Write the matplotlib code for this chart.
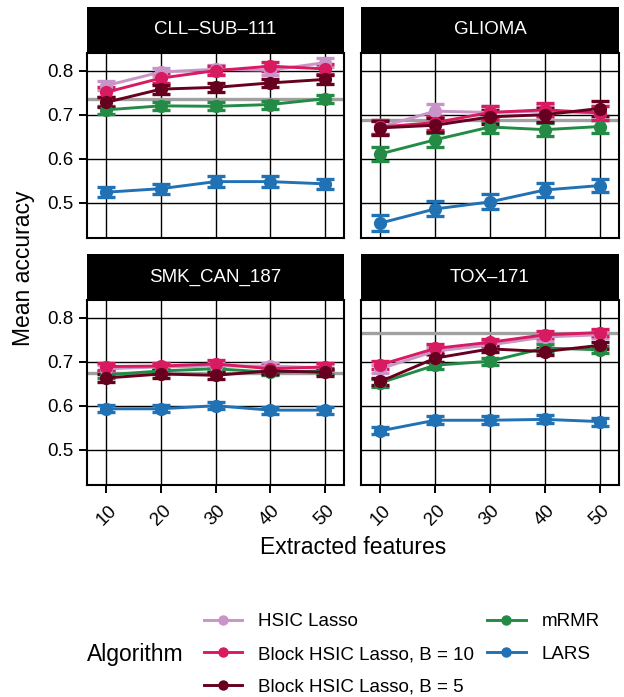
import numpy as np
import matplotlib
matplotlib.use("Agg")
import matplotlib.pyplot as plt
from matplotlib.lines import Line2D

plt.rcParams['font.family'] = ['Liberation Sans', 'DejaVu Sans']

# features extracted
features = [10, 20, 30, 40, 50]

algorithms = ["HSIC Lasso", "Block HSIC Lasso, B = 10", "Block HSIC Lasso, B = 5", "mRMR", "LARS"]
colors = {
    "HSIC Lasso": "#c994c7",
    "Block HSIC Lasso, B = 10": "#d81b60",
    "Block HSIC Lasso, B = 5": "#67001f",
    "mRMR": "#238b45",
    "LARS": "#2171b5",
}
# drawing order (last one on top)
draw_order = ["LARS", "mRMR", "HSIC Lasso", "Block HSIC Lasso, B = 10", "Block HSIC Lasso, B = 5"]

datasets = ["CLL–SUB–111", "GLIOMA", "SMK_CAN_187", "TOX–171"]

# accuracy using all features (grey line)
baseline = [0.735, 0.689, 0.674, 0.766]

# mean accuracy per dataset / algorithm
cll_mean = {
    "HSIC Lasso": [0.766, 0.797, 0.803, 0.801, 0.818],
    "Block HSIC Lasso, B = 10": [0.751, 0.783, 0.800, 0.810, 0.804],
    "Block HSIC Lasso, B = 5": [0.728, 0.758, 0.762, 0.772, 0.780],
    "mRMR": [0.711, 0.720, 0.719, 0.723, 0.736],
    "LARS": [0.524, 0.532, 0.548, 0.548, 0.543],
}
glioma_mean = {
    "HSIC Lasso": [0.672, 0.708, 0.705, 0.708, 0.703],
    "Block HSIC Lasso, B = 10": [0.672, 0.682, 0.705, 0.711, 0.704],
    "Block HSIC Lasso, B = 5": [0.670, 0.676, 0.695, 0.700, 0.714],
    "mRMR": [0.611, 0.643, 0.672, 0.666, 0.673],
    "LARS": [0.454, 0.486, 0.502, 0.529, 0.539],
}
smk_mean = {
    "HSIC Lasso": [0.684, 0.688, 0.690, 0.690, 0.686],
    "Block HSIC Lasso, B = 10": [0.689, 0.690, 0.695, 0.684, 0.688],
    "Block HSIC Lasso, B = 5": [0.663, 0.672, 0.669, 0.679, 0.676],
    "mRMR": [0.670, 0.679, 0.684, 0.676, 0.679],
    "LARS": [0.593, 0.593, 0.600, 0.590, 0.590],
}
tox_mean = {
    "HSIC Lasso": [0.684, 0.724, 0.738, 0.756, 0.761],
    "Block HSIC Lasso, B = 10": [0.693, 0.730, 0.744, 0.761, 0.766],
    "Block HSIC Lasso, B = 5": [0.655, 0.708, 0.729, 0.723, 0.737],
    "mRMR": [0.652, 0.692, 0.701, 0.731, 0.727],
    "LARS": [0.543, 0.567, 0.567, 0.569, 0.564],
}

# error bar half widths
cll_err = {
    "HSIC Lasso": [0.010, 0.010, 0.010, 0.010, 0.010],
    "Block HSIC Lasso, B = 10": [0.011, 0.011, 0.010, 0.010, 0.011],
    "Block HSIC Lasso, B = 5": [0.011, 0.010, 0.010, 0.010, 0.011],
    "mRMR": [0.009, 0.009, 0.009, 0.009, 0.009],
    "LARS": [0.011, 0.011, 0.012, 0.012, 0.012],
}
glioma_err = {
    "HSIC Lasso": [0.016, 0.016, 0.015, 0.015, 0.016],
    "Block HSIC Lasso, B = 10": [0.016, 0.016, 0.015, 0.015, 0.016],
    "Block HSIC Lasso, B = 5": [0.016, 0.016, 0.016, 0.016, 0.016],
    "mRMR": [0.016, 0.016, 0.013, 0.015, 0.015],
    "LARS": [0.019, 0.017, 0.017, 0.016, 0.015],
}
smk_err = {
    "HSIC Lasso": [0.008, 0.008, 0.008, 0.008, 0.008],
    "Block HSIC Lasso, B = 10": [0.008, 0.008, 0.008, 0.008, 0.008],
    "Block HSIC Lasso, B = 5": [0.009, 0.008, 0.008, 0.008, 0.008],
    "mRMR": [0.008, 0.007, 0.007, 0.007, 0.007],
    "LARS": [0.008, 0.008, 0.008, 0.008, 0.008],
}
tox_err = {
    "HSIC Lasso": [0.009, 0.009, 0.008, 0.008, 0.008],
    "Block HSIC Lasso, B = 10": [0.009, 0.009, 0.008, 0.008, 0.008],
    "Block HSIC Lasso, B = 5": [0.009, 0.009, 0.008, 0.008, 0.008],
    "mRMR": [0.009, 0.008, 0.008, 0.008, 0.008],
    "LARS": [0.008, 0.009, 0.009, 0.009, 0.009],
}

means = [cll_mean, glioma_mean, smk_mean, tox_mean]
errs = [cll_err, glioma_err, smk_err, tox_err]

W, H = 624, 697
fig = plt.figure(figsize=(W / 100, H / 100), dpi=100)

# panel boxes in pixels (left, right, top, bottom)
cols_px = [(87, 344), (361, 619)]
rows_px = [(53, 238), (300, 485)]
strip_h = 46

for i, name in enumerate(datasets):
    r, c = divmod(i, 2)
    x0, x1 = cols_px[c]
    y0, y1 = rows_px[r]
    ax = fig.add_axes([x0 / W, 1 - y1 / H, (x1 - x0) / W, (y1 - y0) / H])
    sax = fig.add_axes([x0 / W, 1 - y0 / H, (x1 - x0) / W, strip_h / H])
    sax.set_facecolor("black")
    sax.set_xticks([])
    sax.set_yticks([])
    for s in sax.spines.values():
        s.set_visible(False)
    sax.text(0.5, 0.5, name, color="white", fontsize=13.5, ha="center", va="center",
             transform=sax.transAxes)

    ax.axhline(baseline[i], color="#a0a0a0", lw=2.4, zorder=1.5)
    for alg in draw_order:
        ax.errorbar(features, means[i][alg], yerr=errs[i][alg], color=colors[alg],
                    marker="o", ms=8.5, lw=2.1, elinewidth=2.1, capsize=6.8, capthick=2.4,
                    zorder=3)

    ax.set_xlim(6.45, 53.55)
    ax.set_ylim(0.42, 0.84)
    ax.set_xticks(features)
    ax.set_yticks([0.5, 0.6, 0.7, 0.8])
    ax.grid(True, color="black", lw=1.0, zorder=1)
    ax.set_axisbelow(True)
    for s in ax.spines.values():
        s.set_linewidth(1.5)
    ax.tick_params(length=5.5, width=1.4, labelsize=13.5, pad=4, colors="black")
    if c == 1:
        ax.tick_params(axis="y", left=False, labelleft=False)
    if r == 0:
        ax.tick_params(axis="x", bottom=False, labelbottom=False)
    else:
        ax.set_xticklabels([str(f) for f in features], rotation=45, ha="center", va="top")
        ax.tick_params(axis="x", pad=7)

fig.text(24 / W, 1 - 268 / H, "Mean accuracy", rotation=90, fontsize=16.5,
         ha="center", va="center")
fig.text(353 / W, 1 - 548 / H, "Extracted features", fontsize=16.5,
         ha="center", va="center")

# legend
handles = [Line2D([], [], color=colors[a], lw=2.1, marker="o", ms=7.5, mew=0) for a in algorithms]
fig.legend(handles, algorithms, ncol=2, loc="upper left", bbox_to_anchor=(204 / W, 1 - 613 / H),
           frameon=False, borderpad=0, borderaxespad=0, handlelength=2.05, handletextpad=0.85,
           columnspacing=0.68, labelspacing=0.84, fontsize=13.5)
fig.text(87 / W, 1 - 654 / H, "Algorithm", fontsize=16.5, ha="left", va="center")

fig.savefig("out.png", dpi=100)
